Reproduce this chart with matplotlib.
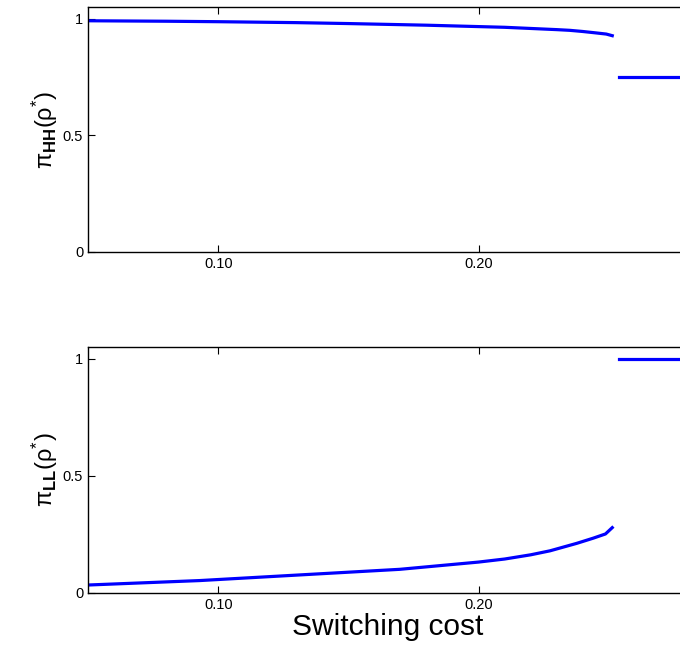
import matplotlib
matplotlib.use('Agg')
import matplotlib.pyplot as plt
import numpy as np

plt.rcParams['font.family'] = ['Liberation Sans', 'DejaVu Sans']
plt.rcParams['mathtext.fontset'] = 'custom'
plt.rcParams['mathtext.rm'] = 'Liberation Sans'
plt.rcParams['mathtext.it'] = 'Liberation Sans:italic'
plt.rcParams['mathtext.bf'] = 'Liberation Sans:bold'

# switching cost before the jump
cost_hh1 = [0.05, 0.08, 0.10, 0.13, 0.15, 0.18, 0.20, 0.21, 0.22, 0.23, 0.235, 0.24, 0.245, 0.249, 0.2513]
pi_hh1 = [0.991, 0.989, 0.987, 0.983, 0.979, 0.972, 0.966, 0.963, 0.958, 0.953, 0.950, 0.945, 0.939, 0.934, 0.927]
cost_ll1 = [0.05, 0.0929, 0.1312, 0.1697, 0.20, 0.21, 0.22, 0.2274, 0.2377, 0.244, 0.2487, 0.2513]
pi_ll1 = [0.034, 0.053, 0.077, 0.101, 0.132, 0.145, 0.163, 0.180, 0.212, 0.234, 0.252, 0.279]
# after the jump
cost2 = [0.2537, 0.28]
pi_hh2 = [0.748, 0.748]
pi_ll2 = [1.0, 1.0]

xticks = [0.10, 0.20]
xticklabels = ['0.10', '0.20']
yticks = [0, 0.5, 1]
yticklabels = ['0', '0.5', '1']

fig = plt.figure(figsize=(6.8, 6.54), dpi=100)
ax1 = fig.add_axes([0.1294, 0.6147, 0.8809, 0.3746])
ax2 = fig.add_axes([0.1294, 0.0933, 0.8809, 0.3761])

panels = [(ax1, cost_hh1, pi_hh1, pi_hh2, r'$\mathrm{\pi}_{\mathbf{HH}}(\mathrm{\rho}^{*})$'),
          (ax2, cost_ll1, pi_ll1, pi_ll2, r'$\mathrm{\pi}_{\mathbf{LL}}(\mathrm{\rho}^{*})$')]
for ax, c1, y1, y2, lab in panels:
    ax.plot(c1, y1, color='blue', lw=2.3)
    ax.plot(cost2, y2, color='blue', lw=2.3)
    ax.set_xlim(0.05, 0.28)
    ax.set_ylim(0, 1.05)
    ax.set_xticks(xticks)
    ax.set_xticklabels(xticklabels)
    ax.set_yticks(yticks)
    ax.set_yticklabels(yticklabels)
    ax.tick_params(direction='in', top=True, length=5, labelsize=10.5, width=0.8)
    ax.set_ylabel(lab, fontsize=17, labelpad=2)
    for s in ax.spines.values():
        s.set_linewidth(1.0)

ax2.set_xlabel('Switching cost', fontsize=21.5, labelpad=1)

fig.savefig('out.png', dpi=100)
